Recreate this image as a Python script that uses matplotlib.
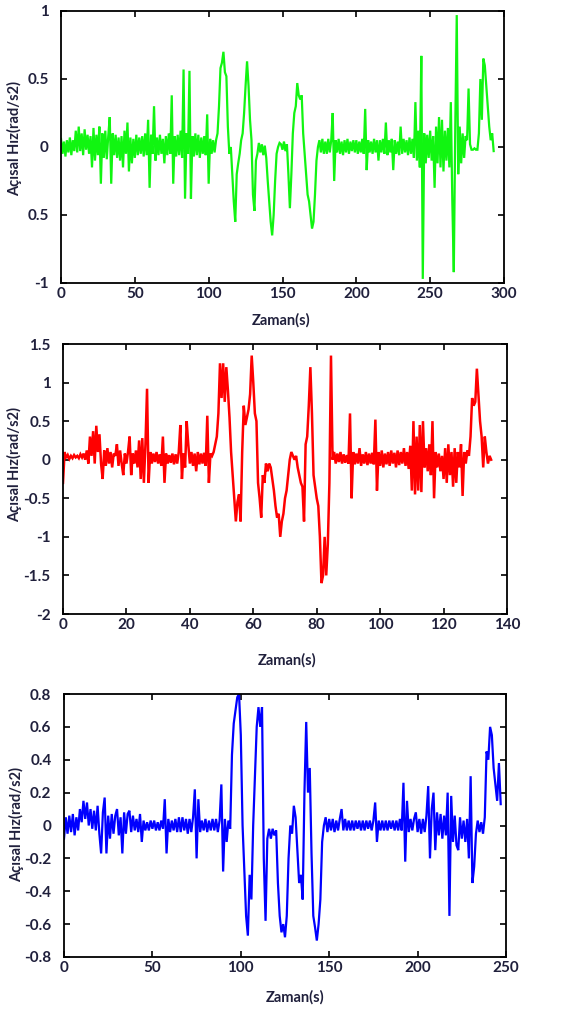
import numpy as np
import matplotlib
matplotlib.use('Agg')
import matplotlib.pyplot as plt

plt.rcParams['font.family'] = ['Lato', 'DejaVu Sans']

# --- Veri: panel 1 (yeşil), örnekleme adımı 1 s ---
dt1 = 1.0
hiz1 = [
    0.06, -0.05, 0.04, -0.07, 0.05, -0.04, 0.07, -0.06, 0.05, -0.03,
    0.12, -0.04, 0.15, -0.03, 0.10, -0.06, 0.13, -0.02, 0.09, -0.05,
    0.08, -0.15, 0.14, -0.10, 0.09, -0.06, 0.15, -0.27, 0.10, -0.08,
    0.12, -0.09, 0.08, 0.22, -0.27, 0.10, -0.06, 0.09, -0.08, 0.07,
    -0.10, 0.08, -0.15, 0.12, -0.05, 0.18, -0.18, 0.07, -0.12, 0.06,
    -0.08, 0.09, -0.06, 0.07, -0.05, 0.08, -0.07, 0.10, -0.06, 0.20,
    -0.30, 0.09, -0.05, 0.30, -0.10, 0.07, -0.06, 0.09, -0.05, 0.06,
    -0.12, 0.08, -0.06, 0.10, -0.05, 0.38, -0.27, 0.08, -0.07, 0.09,
    -0.06, 0.12, -0.08, 0.57, -0.38, 0.10, -0.05, 0.56, -0.38, 0.08,
    -0.07, 0.10, -0.06, 0.09, -0.08, 0.07, -0.05, 0.08, -0.06, 0.24,
    -0.27, 0.06, -0.05, 0.05, -0.04, 0.05, 0.10, 0.30, 0.58, 0.62,
    0.70, 0.55, 0.52, 0.15, -0.05, 0.00, -0.20, -0.40, -0.55, -0.20,
    -0.12, -0.05, 0.05, 0.10, 0.25, 0.45, 0.63, 0.45, 0.20, 0.05,
    -0.35, -0.47, -0.10, -0.05, 0.03, -0.04, 0.02, -0.06, 0.01, -0.08,
    -0.25, -0.40, -0.55, -0.65, -0.50, -0.25, -0.05, 0.00, 0.03, 0.02,
    -0.02, 0.04, -0.03, 0.02, -0.20, -0.45, -0.20, 0.10, 0.25, 0.30,
    0.47, 0.38, 0.35, 0.38, 0.10, -0.05, -0.20, -0.35, -0.40, -0.50,
    -0.60, -0.55, -0.35, -0.10, 0.00, 0.05, -0.04, 0.06, -0.05, 0.04,
    -0.05, 0.06, -0.04, 0.05, 0.25, -0.25, 0.05, -0.04, 0.06, -0.05,
    0.04, -0.06, 0.05, -0.04, 0.06, -0.05, 0.04, -0.03, 0.05, -0.04,
    0.05, -0.05, 0.04, -0.04, 0.06, -0.05, 0.28, -0.17, 0.05, -0.04,
    0.04, -0.05, 0.06, -0.04, 0.05, -0.10, 0.05, -0.04, 0.06, -0.05,
    0.18, -0.06, 0.05, -0.04, 0.06, -0.17, 0.05, -0.05, 0.04, -0.06,
    0.15, -0.05, 0.06, -0.04, 0.05, -0.06, 0.07, -0.05, 0.06, -0.08,
    0.33, -0.10, 0.12, -0.15, 0.67, -0.97, 0.10, -0.12, 0.09, -0.08,
    0.12, -0.10, 0.08, -0.30, 0.15, -0.12, 0.22, -0.15, 0.20, -0.18,
    0.12, -0.10, 0.14, -0.15, 0.33, -0.40, -0.92, 0.15, 0.97, -0.20,
    0.15, -0.12, 0.10, -0.08, 0.08, 0.05, 0.43, 0.02, -0.02, -0.02,
    -0.01, -0.02, -0.02, 0.10, 0.50, 0.20, 0.65, 0.60, 0.45, 0.30,
    0.15, 0.05, 0.10, -0.03,
]

# --- Veri: panel 2 (kırmızı), örnekleme adımı 0.5 s ---
dt2 = 0.5
hiz2 = [
    -0.30, 0.10, 0.02, 0.06, 0.01, 0.05, 0.02, 0.06, 0.03, 0.05,
    0.02, 0.07, 0.03, 0.08, 0.00, 0.12, -0.05, 0.30, 0.05, 0.37,
    -0.05, 0.44, 0.10, 0.33, -0.05, -0.25, 0.12, -0.08, 0.15, -0.05,
    0.10, -0.10, 0.08, 0.05, 0.20, -0.08, 0.12, -0.05, -0.20, 0.08,
    -0.05, 0.10, 0.30, -0.20, 0.08, -0.05, 0.12, -0.10, 0.25, -0.25,
    0.28, -0.30, 0.20, 0.92, -0.30, 0.10, -0.05, 0.08, -0.03, 0.10,
    -0.05, 0.07, -0.08, 0.30, -0.30, 0.08, -0.05, 0.06, -0.04, 0.08,
    -0.06, 0.07, -0.05, 0.10, 0.45, -0.25, 0.08, -0.10, 0.50, 0.20,
    -0.05, 0.10, -0.08, 0.08, -0.15, 0.10, -0.06, 0.08, -0.05, 0.09,
    -0.08, 0.57, -0.30, 0.08, 0.05, 0.10, 0.20, 0.30, 0.60, 1.25,
    0.80, 1.25, 0.75, 1.20, 0.90, 0.55, 0.10, -0.20, -0.50, -0.80,
    -0.55, -0.45, -0.80, 0.10, 0.70, 0.45, 0.55, 0.65, 0.85, 1.35,
    1.00, 0.60, 0.50, -0.30, -0.50, -0.75, -0.20, -0.30, -0.05, -0.15,
    -0.05, -0.10, -0.25, -0.40, -0.60, -0.75, -0.70, -1.00, -0.80, -0.70,
    -0.50, -0.40, -0.20, 0.00, 0.10, 0.05, 0.00, 0.05, -0.10, -0.20,
    -0.30, -0.35, -0.80, 0.20, 0.30, 0.70, 1.20, 0.60, -0.20, -0.35,
    -0.50, -0.60, -1.00, -1.60, -1.50, -1.00, -1.50, -1.10, -0.30, 1.35,
    0.00, 0.10, -0.05, 0.08, -0.03, 0.10, -0.05, 0.07, -0.04, 0.06,
    -0.05, 0.60, -0.50, 0.10, -0.06, 0.08, -0.05, 0.15, -0.08, 0.07,
    -0.05, 0.10, -0.07, 0.08, -0.05, 0.09, -0.06, 0.52, -0.40, 0.10,
    -0.08, 0.12, -0.10, 0.08, -0.06, 0.10, -0.08, 0.12, -0.05, 0.09,
    -0.10, 0.12, -0.07, 0.10, -0.05, 0.15, -0.08, 0.10, -0.12, 0.18,
    -0.40, 0.50, -0.45, 0.30, -0.40, 0.45, -0.42, 0.50, -0.10, 0.15,
    -0.15, 0.20, -0.20, 0.50, -0.50, 0.10, -0.10, 0.08, -0.15, 0.05,
    -0.25, 0.15, -0.30, 0.20, -0.20, 0.10, -0.35, 0.15, -0.30, 0.10,
    -0.10, 0.20, -0.47, 0.10, -0.05, 0.12, 0.05, 0.30, 0.80, 0.70,
    0.75, 1.18, 0.85, 0.50, 0.30, -0.10, 0.30, 0.10, -0.05, 0.05,
    0.00,
]

# --- Veri: panel 3 (mavi), örnekleme adımı 1 s ---
dt3 = 1.0
hiz3 = [
    -0.08, 0.05, -0.05, 0.06, -0.04, 0.07, -0.06, 0.05, -0.03, 0.10,
    0.02, 0.15, 0.04, 0.14, 0.00, 0.10, -0.02, 0.09, -0.03, 0.12,
    -0.05, -0.17, 0.08, 0.17, -0.17, 0.06, -0.08, 0.07, -0.05, 0.06,
    0.10, -0.06, 0.05, -0.17, 0.08, -0.05, 0.07, 0.09, -0.04, 0.06,
    -0.03, 0.04, -0.04, 0.07, -0.10, 0.03, -0.03, 0.02, -0.03, 0.03,
    -0.02, 0.03, -0.03, 0.02, -0.03, 0.03, -0.02, 0.16, -0.17, 0.04,
    -0.04, 0.03, -0.03, 0.04, -0.04, 0.05, -0.04, 0.05, -0.03, 0.04,
    -0.05, 0.04, -0.04, 0.05, 0.22, -0.20, 0.16, -0.04, 0.03, -0.03,
    0.04, -0.04, 0.03, -0.03, 0.04, -0.03, 0.04, -0.04, 0.03, 0.25,
    -0.28, 0.04, -0.10, 0.03, -0.02, 0.43, 0.62, 0.70, 0.78, 0.80,
    0.55, 0.00, -0.28, -0.55, -0.67, -0.30, -0.45, 0.00, 0.30, 0.60,
    0.72, 0.60, 0.72, -0.20, -0.58, -0.08, -0.02, -0.08, -0.02, -0.06,
    -0.03, -0.35, -0.55, -0.65, -0.60, -0.68, -0.55, -0.20, 0.00, -0.05,
    0.12, 0.05, -0.15, -0.35, -0.30, -0.45, 0.20, 0.63, 0.20, 0.35,
    -0.17, -0.55, -0.62, -0.70, -0.60, -0.45, -0.10, 0.00, 0.05, -0.04,
    0.04, -0.03, 0.04, -0.04, 0.03, -0.03, 0.04, 0.10, -0.03, 0.04,
    -0.03, 0.03, -0.03, 0.03, -0.03, 0.03, -0.02, 0.03, -0.03, 0.03,
    -0.03, 0.03, -0.02, 0.03, -0.03, 0.03, 0.14, -0.10, 0.03, -0.03,
    0.03, -0.03, 0.03, -0.03, 0.03, -0.02, 0.03, -0.03, 0.03, -0.03,
    0.04, -0.03, 0.26, -0.22, 0.15, -0.04, 0.04, -0.03, 0.04, 0.08,
    -0.04, 0.04, -0.05, 0.04, -0.04, 0.06, 0.24, -0.20, 0.10, 0.20,
    -0.15, 0.08, -0.06, 0.07, -0.08, 0.06, -0.06, 0.20, -0.55, 0.18,
    -0.10, 0.06, -0.12, -0.15, 0.05, -0.08, 0.03, -0.10, 0.04, -0.20,
    0.30, -0.35, -0.25, -0.05, 0.03, -0.04, 0.02, -0.05, 0.05, 0.45,
    0.40, 0.60, 0.55, 0.35, 0.25, 0.15, 0.38, 0.13,
]

# eksen ayarları (tick değerleri ve etiketleri)
xticks1 = [0, 50, 100, 150, 200, 250, 300]
yticks1 = [1, 0.5, 0, -0.5, -1]
ylabels1 = ['1', '0.5', '0', '0.5', '-1']   # orijinalde -0.5 eksi işaretsiz

xticks2 = [0, 20, 40, 60, 80, 100, 120, 140]
yticks2 = [1.5, 1, 0.5, 0, -0.5, -1, -1.5, -2]
ylabels2 = ['1.5', '1', '0.5', '0', '-0.5', '-1', '-1.5', '-2']

xticks3 = [0, 50, 100, 150, 200, 250]
yticks3 = [0.8, 0.6, 0.4, 0.2, 0, -0.2, -0.4, -0.6, -0.8]
ylabels3 = ['0.8', '0.6', '0.4', '0.2', '0', '-0.2', '-0.4', '-0.6', '-0.8']

metin_renk = '#20203c'
y_baslik = 'Açısal Hız(rad/s2)'
x_baslik = 'Zaman(s)'

W, H = 582, 1010
fig = plt.figure(figsize=(W / 100, H / 100), dpi=100)


def px(left, top, right, bottom):
    # piksel kutusunu figür oranına çevir
    return [left / W, 1 - bottom / H, (right - left) / W, (bottom - top) / H]


def panel(rect, dt, y, renk, xlim, ylim, xt, yt, ylab, lw):
    ax = fig.add_axes(rect)
    t = np.arange(len(y)) * dt
    ax.plot(t, y, color=renk, lw=lw, solid_joinstyle='miter')
    ax.set_xlim(*xlim)
    ax.set_ylim(*ylim)
    ax.set_xticks(xt)
    ax.set_xticklabels([str(v) for v in xt])
    ax.set_yticks(yt)
    ax.set_yticklabels(ylab)
    ax.tick_params(direction='in', length=4, width=1.2, top=True, right=True,
                   labelsize=11, colors='black', labelcolor=metin_renk)
    ax.tick_params(axis='y', pad=9)
    ax.tick_params(axis='x', pad=3)
    for lbl in ax.get_xticklabels() + ax.get_yticklabels():
        lbl.set_fontweight('bold')
    for s in ax.spines.values():
        s.set_linewidth(1.3)
    return ax


panel(px(61, 11, 504, 283), dt1, hiz1, '#11f511', (0, 300), (-1, 1),
      xticks1, yticks1, ylabels1, 1.6)
panel(px(63, 344, 507, 614), dt2, hiz2, '#ff0000', (0, 140), (-2, 1.5),
      xticks2, yticks2, ylabels2, 1.8)
panel(px(64, 694, 506, 957), dt3, hiz3, '#0000ff', (0, 250), (-0.8, 0.8),
      xticks3, yticks3, ylabels3, 1.6)

# eksen başlıkları
for (xx, yy) in [(15, 138), (15, 465), (17, 825)]:
    fig.text(xx / W, 1 - yy / H, y_baslik, rotation=90, ha='center', va='center',
             fontsize=10.5, fontweight='bold', color=metin_renk)
for (xx, yy) in [(281, 320), (287, 660), (295, 997)]:
    fig.text(xx / W, 1 - yy / H, x_baslik, ha='center', va='center',
             fontsize=10.5, fontweight='bold', color=metin_renk)

fig.savefig('out.png', dpi=100)
